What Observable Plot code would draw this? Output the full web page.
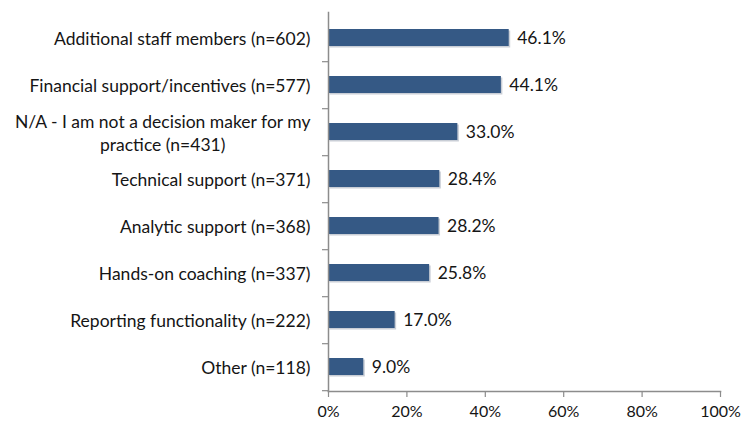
<!DOCTYPE html>
<html>
<head>
<meta charset="utf-8">
<script src="https://cdn.jsdelivr.net/npm/d3@7"></script>
<script src="https://cdn.jsdelivr.net/npm/@observablehq/plot@0.6"></script>
<style>
  html, body { margin: 0; padding: 0; background: #fff; }
  #chart svg { display: block; }
</style>
</head>
<body>
<div id="chart"></div>
<script>
const categories = [
  "Additional staff members (n=602)",
  "Financial support/incentives (n=577)",
  "N/A - I am not a decision maker for my practice (n=431)",
  "Technical support (n=371)",
  "Analytic support (n=368)",
  "Hands-on coaching (n=337)",
  "Reporting functionality (n=222)",
  "Other (n=118)"
];
const values = [46.1, 44.1, 33.0, 28.4, 28.2, 25.8, 17.0, 9.0];
const xTicks = [0, 20, 40, 60, 80, 100];
const xTickLabels = ["0%", "20%", "40%", "60%", "80%", "100%"];

const data = categories.map((c, i) => ({category: c, value: values[i]}));

const W = 741, H = 423;
const mTop = 12, mBottom = 32, mLeft = 328, mRight = 21;
const bandStep = (H - mTop - mBottom) / categories.length;
const font = "Lato, 'Open Sans', sans-serif";
const fs = 17.5;
const textColor = "#151515";
const axisGray = "#8c8c8c";
const barColor = "#355985";

const wrap = c => c.replace(" for my practice", " for my\npractice");

const chart = Plot.plot({
  width: W,
  height: H,
  marginTop: mTop,
  marginBottom: mBottom,
  marginLeft: mLeft,
  marginRight: mRight,
  style: {fontFamily: font, fontSize: fs + "px", color: textColor, background: "#fff"},
  x: {domain: [0, 100]},
  y: {domain: categories, paddingInner: 0.64, paddingOuter: 0.32},
  marks: [
    // subtle bar shadow
    Plot.barX(data, {x: "value", y: "category", fill: "#c9ced6", dx: 1.5, dy: 1.5}),
    Plot.barX(data, {x: "value", y: "category", fill: barColor}),
    Plot.text(data, {
      x: "value", y: "category",
      text: d => d.value.toFixed(1) + "%",
      textAnchor: "start", dx: 8, fill: textColor,
      fontSize: fs
    }),
    // axis lines
    Plot.frame({anchor: "left", stroke: axisGray, strokeWidth: 1.5}),
    Plot.frame({anchor: "bottom", stroke: axisGray, strokeWidth: 1.5}),
    // y tick marks at band boundaries
    Plot.axisY({
      tickSize: 6, tickFormat: () => "", stroke: axisGray, strokeWidth: 1.2,
      dy: bandStep / 2, label: null
    }),
    // y labels
    Plot.axisY({
      tickSize: 0, tickPadding: 18, tickFormat: wrap, label: null,
      fill: textColor, fontSize: fs, lineHeight: 1.3
    }),
    Plot.axisX({
      ticks: xTicks, tickFormat: d => xTickLabels[xTicks.indexOf(d)],
      tickSize: 6, tickPadding: 8, stroke: axisGray, strokeWidth: 1.2,
      label: null, fill: textColor, fontSize: 16
    })
  ]
});

document.getElementById("chart").appendChild(chart);

// center-align lines of multi-line y labels (as in the original):
// the longest line stays right-aligned, the others are centred on it
function centerLines() {
  chart.querySelectorAll("text").forEach(t => {
    const spans = t.querySelectorAll("tspan");
    if (spans.length > 1) {
      let maxW = 0;
      spans.forEach(s => { maxW = Math.max(maxW, s.getComputedTextLength()); });
      spans.forEach(s => { s.setAttribute("text-anchor", "middle"); s.setAttribute("x", -maxW / 2); });
    }
  });
}
centerLines();
</script>
</body>
</html>
